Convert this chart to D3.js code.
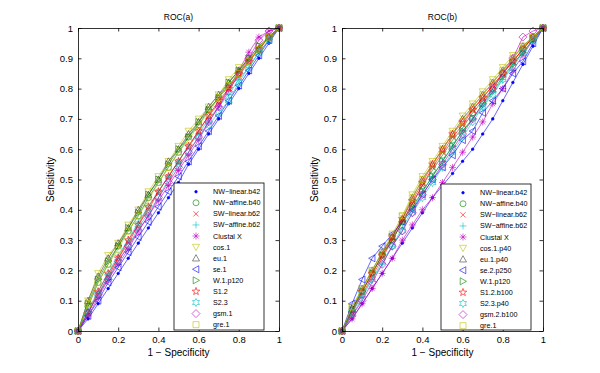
<!DOCTYPE html>
<html lang="en">
<head>
<meta charset="utf-8">
<title>ROC(a) / ROC(b)</title>
<script src="https://d3js.org/d3.v7.min.js"></script>
<style>
    body { margin: 0; background: #fff; font-family: "Liberation Sans", Arial, Helvetica, sans-serif; }
    .axis text { font-size: 9.5px; fill: #000; }
    .axis path, .axis line { stroke: #000; stroke-width: 0.8; }
</style>
</head>
<body>
<script>

// false positive rate grid shared by every curve
var fpr = [0, 0.05, 0.1, 0.15, 0.2, 0.25, 0.3, 0.35, 0.4, 0.45, 0.5,
           0.55, 0.6, 0.65, 0.7, 0.75, 0.8, 0.85, 0.9, 0.95, 1];

var xTicks = [0, 0.2, 0.4, 0.6, 0.8, 1];
var yTicks = [0, 0.1, 0.2, 0.3, 0.4, 0.5, 0.6, 0.7, 0.8, 0.9, 1];

var labelsA = ["NW−linear.b42", "NW−affine.b40", "SW−linear.b62", "SW−affine.b62", "Clustal X",
               "cos.1", "eu.1", "se.1", "W.1.p120", "S1.2", "S2.3", "gsm.1", "gre.1"];
var labelsB = ["NW−linear.b42", "NW−affine.b40", "SW−linear.b62", "SW−affine.b62", "Clustal X",
               "cos.1.p40", "eu.1.p40", "se.2.p250", "W.1.p120", "S1.2.b100", "S2.3.p40", "gsm.2.b100", "gre.1"];

// sensitivity at each fpr value, one row per method (same order as labels)
var tprA = [
    [0, .04, .09, .14, .19, .24, .29, .34, .39, .44, .49, .55, .60, .65, .70, .75, .80, .85, .90, .95, 1],
    [0, .08, .16, .22, .28, .33, .38, .44, .49, .54, .59, .64, .68, .73, .77, .81, .85, .89, .93, .97, 1],
    [0, .06, .12, .18, .24, .29, .35, .40, .46, .51, .56, .61, .66, .71, .75, .80, .84, .89, .93, .97, 1],
    [0, .07, .13, .19, .25, .30, .36, .41, .46, .51, .56, .61, .65, .70, .74, .78, .83, .87, .92, .96, 1],
    [0, .05, .11, .17, .22, .27, .33, .38, .43, .48, .53, .58, .63, .69, .74, .80, .86, .92, .97, .99, 1],
    [0, .10, .19, .25, .29, .35, .40, .46, .51, .56, .61, .66, .70, .74, .78, .83, .87, .90, .94, .97, 1],
    [0, .10, .18, .24, .29, .34, .40, .45, .50, .56, .60, .65, .69, .74, .78, .82, .86, .90, .93, .97, 1],
    [0, .05, .10, .16, .21, .26, .31, .36, .41, .46, .51, .56, .61, .66, .71, .76, .81, .86, .91, .96, 1],
    [0, .09, .17, .23, .28, .34, .39, .45, .50, .55, .60, .64, .69, .73, .77, .82, .86, .90, .94, .97, 1],
    [0, .06, .13, .19, .24, .30, .35, .41, .46, .51, .56, .61, .66, .71, .76, .80, .85, .89, .93, .97, 1],
    [0, .06, .12, .18, .23, .28, .34, .39, .44, .50, .55, .59, .64, .68, .72, .76, .82, .87, .92, .96, 1],
    [0, .06, .12, .17, .23, .28, .33, .38, .44, .49, .54, .59, .64, .69, .74, .79, .85, .90, .96, .99, 1],
    [0, .09, .16, .22, .27, .33, .38, .43, .49, .54, .59, .63, .68, .72, .77, .81, .85, .89, .93, .97, 1]
];

var tprB = [
    [0, .04, .09, .14, .19, .24, .29, .34, .39, .44, .48, .52, .56, .60, .65, .70, .76, .82, .88, .94, 1],
    [0, .07, .13, .19, .25, .30, .36, .42, .48, .53, .58, .63, .67, .72, .76, .80, .85, .89, .93, .97, 1],
    [0, .06, .12, .18, .24, .30, .36, .42, .48, .54, .59, .64, .68, .73, .77, .81, .85, .89, .93, .97, 1],
    [0, .05, .11, .17, .22, .28, .34, .40, .46, .51, .56, .61, .66, .70, .74, .79, .83, .88, .92, .96, 1],
    [0, .04, .09, .14, .19, .24, .30, .35, .40, .44, .49, .54, .59, .64, .69, .75, .80, .86, .91, .96, 1],
    [0, .08, .14, .20, .26, .31, .38, .45, .51, .56, .61, .66, .71, .75, .79, .83, .87, .91, .94, .97, 1],
    [0, .07, .14, .20, .26, .31, .37, .44, .50, .55, .60, .65, .70, .74, .78, .82, .86, .90, .94, .97, 1],
    [0, .09, .17, .24, .28, .32, .36, .40, .45, .50, .54, .58, .63, .66, .72, .76, .80, .85, .89, .95, 1],
    [0, .07, .13, .19, .25, .30, .36, .41, .46, .51, .56, .61, .66, .70, .75, .79, .84, .88, .92, .96, 1],
    [0, .06, .13, .19, .25, .31, .37, .43, .49, .55, .60, .65, .69, .73, .77, .81, .85, .89, .93, .97, 1],
    [0, .06, .12, .17, .23, .28, .33, .39, .44, .49, .54, .59, .64, .69, .74, .78, .83, .87, .92, .96, 1],
    [0, .05, .10, .16, .22, .28, .33, .39, .45, .50, .55, .60, .65, .70, .75, .80, .85, .90, .97, .99, 1],
    [0, .08, .14, .20, .26, .32, .38, .44, .50, .55, .60, .65, .69, .74, .78, .82, .86, .90, .94, .97, 1]
];

var colors = ["#0000ff", "#008000", "#ff0000", "#00bfbf", "#bf00bf", "#bfbf00", "#404040",
              "#0000ff", "#008000", "#ff0000", "#00bfbf", "#bf00bf", "#bfbf00"];
var markers = ["dot", "circle", "x", "plus", "asterisk", "tridown", "triup",
               "trileft", "triright", "pentagram", "hexagram", "diamond", "square"];

var w = 600, h = 373;
var top_ = 28, bottom = 331, plotW = 201;

function starPath(n, ro, ri) {
    var pts = [];
    for (var i = 0; i < 2 * n; i++) {
        var r = i % 2 ? ri : ro;
        var a = -Math.PI / 2 + i * Math.PI / n;
        pts.push([r * Math.cos(a), r * Math.sin(a)]);
    }
    return "M" + pts.join("L") + "Z";
}

//marker shapes, roughly matlab markersize 6
function markerPath(t) {
    switch (t) {
        case "dot": return "M1.3,0A1.3,1.3 0 1 1 -1.3,0A1.3,1.3 0 1 1 1.3,0Z";
        case "circle": return "M3,0A3,3 0 1 1 -3,0A3,3 0 1 1 3,0Z";
        case "x": return "M-2.6,-2.6L2.6,2.6M-2.6,2.6L2.6,-2.6";
        case "plus": return "M-3.5,0H3.5M0,-3.5V3.5";
        case "asterisk": return "M-3.5,0H3.5M0,-3.5V3.5M-2.5,-2.5L2.5,2.5M-2.5,2.5L2.5,-2.5";
        case "tridown": return "M-3.5,-2.8L3.5,-2.8L0,3.5Z";
        case "triup": return "M-3.5,2.8L3.5,2.8L0,-3.5Z";
        case "trileft": return "M2.8,-3.5L2.8,3.5L-3.5,0Z";
        case "triright": return "M-2.8,-3.5L-2.8,3.5L3.5,0Z";
        case "pentagram": return starPath(5, 4, 1.6);
        case "hexagram": return starPath(6, 4, 2.2);
        case "diamond": return "M0,-4L4,0L0,4L-4,0Z";
        case "square": return "M-3,-3H3V3H-3Z";
    }
}

var svg = d3.select("body")
    .append("svg")
    .attr("width", w)
    .attr("height", h);

var panels = [
    {x0: 78, title: "ROC(a)", tpr: tprA, labels: labelsA, legX: 174, legY: 183},
    {x0: 342, title: "ROC(b)", tpr: tprB, labels: labelsB, legX: 441, legY: 184}
];

panels.forEach(function(p, pi) {
    var xScale = d3.scaleLinear().domain([0, 1]).range([p.x0, p.x0 + plotW]);
    var yScale = d3.scaleLinear().domain([0, 1]).range([bottom, top_]);

    var g = svg.append("g");

    // white background of the axes
    g.append("rect")
        .attr("x", p.x0).attr("y", top_)
        .attr("width", plotW).attr("height", bottom - top_)
        .attr("fill", "#fff");

    var clipId = "clip" + pi;
    g.append("clipPath").attr("id", clipId)
        .append("rect")
        .attr("x", p.x0 - 5).attr("y", top_ - 5)
        .attr("width", plotW + 10).attr("height", bottom - top_ + 10);

    var curves = g.append("g").attr("clip-path", "url(#" + clipId + ")");

    var line = d3.line()
        .x(function(d, i) { return xScale(fpr[i]); })
        .y(function(d) { return yScale(d); });

    p.tpr.forEach(function(series, si) {
        curves.append("path")
            .attr("d", line(series))
            .attr("fill", "none")
            .attr("stroke", colors[si])
            .attr("stroke-width", 0.6);

        curves.selectAll(null)
            .data(series)
            .enter()
            .append("path")
            .attr("transform", function(d, i) {
                return "translate(" + xScale(fpr[i]) + "," + yScale(d) + ")";
            })
            .attr("d", markerPath(markers[si]))
            .attr("fill", markers[si] == "dot" ? colors[si] : "none")
            .attr("stroke", colors[si])
            .attr("stroke-width", 0.6);
    });

    //axes, ticks pointing inward like matlab
    var fmt = function(d) { return String(+d.toFixed(1)); };
    g.append("g").attr("class", "axis")
        .attr("transform", "translate(0," + bottom + ")")
        .call(d3.axisBottom(xScale).tickValues(xTicks).tickFormat(fmt).tickSizeInner(-3.5).tickSizeOuter(0).tickPadding(5));
    g.append("g").attr("class", "axis")
        .attr("transform", "translate(0," + top_ + ")")
        .call(d3.axisTop(xScale).tickValues(xTicks).tickFormat("").tickSizeInner(-3.5).tickSizeOuter(0));
    g.append("g").attr("class", "axis")
        .attr("transform", "translate(" + p.x0 + ",0)")
        .call(d3.axisLeft(yScale).tickValues(yTicks).tickFormat(fmt).tickSizeInner(-3.5).tickSizeOuter(0).tickPadding(5));
    g.append("g").attr("class", "axis")
        .attr("transform", "translate(" + (p.x0 + plotW) + ",0)")
        .call(d3.axisRight(yScale).tickValues(yTicks).tickFormat("").tickSizeInner(-3.5).tickSizeOuter(0));

    // labels
    g.append("text")
        .attr("x", p.x0 + plotW / 2).attr("y", 20)
        .attr("text-anchor", "middle")
        .style("font-size", "8.5px")
        .text(p.title);
    g.append("text")
        .attr("x", p.x0 + plotW / 2).attr("y", 356)
        .attr("text-anchor", "middle")
        .style("font-size", "10px")
        .text("1 − Specificity");
    g.append("text")
        .attr("transform", "translate(" + (p.x0 - 24) + "," + ((top_ + bottom) / 2) + ") rotate(-90)")
        .attr("text-anchor", "middle")
        .style("font-size", "10px")
        .text("Sensitivity");

    //legend
    var leg = g.append("g");
    leg.append("rect")
        .attr("x", p.legX).attr("y", p.legY)
        .attr("width", 90).attr("height", bottom - p.legY - 1)
        .attr("fill", "#fff")
        .attr("stroke", "#000")
        .attr("stroke-width", 0.8);

    var items = leg.selectAll(".item")
        .data(p.labels)
        .enter()
        .append("g")
        .attr("transform", function(d, i) {
            return "translate(" + p.legX + "," + (p.legY + 8.7 + i * 11.08) + ")";
        });
    items.append("path")
        .attr("transform", "translate(22,0)")
        .attr("d", function(d, i) { return markerPath(markers[i]); })
        .attr("fill", function(d, i) { return markers[i] == "dot" ? colors[i] : "none"; })
        .attr("stroke", function(d, i) { return colors[i]; })
        .attr("stroke-width", 0.6);
    items.append("text")
        .attr("x", 39).attr("y", 2.5)
        .style("font-size", "7.2px")
        .text(function(d) { return d; });
});
</script>
</body>
</html>
